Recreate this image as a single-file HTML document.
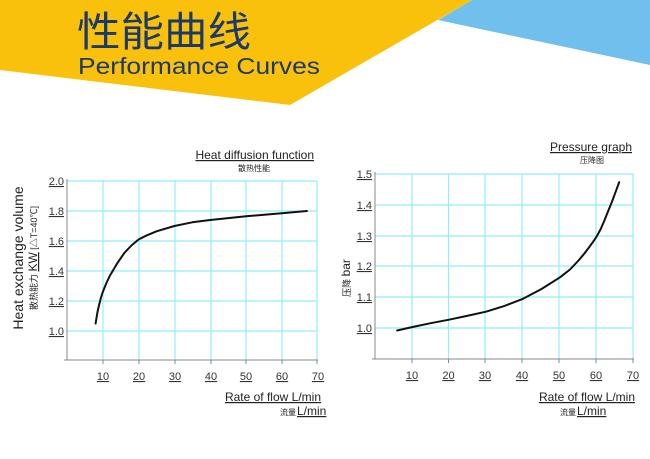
<!DOCTYPE html>
<html><head><meta charset="utf-8"><style>
html,body{margin:0;padding:0;background:#fff;}
svg{display:block;}
text{font-family:"Liberation Sans","Noto Sans CJK SC",sans-serif;}
</style></head><body>
<svg width="650" height="459" viewBox="0 0 650 459" xmlns="http://www.w3.org/2000/svg">
<polygon points="438,20 472,0 650,0 650,65" fill="#70bfec"/>
<polygon points="0,0 472,0 290,105 0,70" fill="#f9c10c"/>
<text x="77" y="46" font-size="41" fill="#1b3a6b" font-family="'Noto Sans CJK SC',sans-serif" textLength="174" lengthAdjust="spacingAndGlyphs">性能曲线</text>
<text x="78" y="74" font-size="23" fill="#1b3a6b" textLength="242" lengthAdjust="spacingAndGlyphs">Performance Curves</text>

<!-- Left chart -->
<g stroke="#8ff0f8" stroke-width="1.2">
<line x1="67" y1="181" x2="317" y2="181"/><line x1="67" y1="211" x2="317" y2="211"/>
<line x1="67" y1="241" x2="317" y2="241"/><line x1="67" y1="271" x2="317" y2="271"/>
<line x1="67" y1="301" x2="317" y2="301"/><line x1="67" y1="331" x2="317" y2="331"/>
<line x1="103" y1="181" x2="103" y2="360"/><line x1="139" y1="181" x2="139" y2="360"/>
<line x1="175" y1="181" x2="175" y2="360"/><line x1="211" y1="181" x2="211" y2="360"/>
<line x1="246" y1="181" x2="246" y2="360"/><line x1="282" y1="181" x2="282" y2="360"/>
<line x1="317" y1="181" x2="317" y2="360"/>
</g>
<g stroke="#888" stroke-width="1">
<line x1="67" y1="179" x2="67" y2="360"/><line x1="64" y1="360" x2="318" y2="360"/>
<line x1="103" y1="360" x2="103" y2="364"/><line x1="139" y1="360" x2="139" y2="364"/><line x1="175" y1="360" x2="175" y2="364"/><line x1="211" y1="360" x2="211" y2="364"/><line x1="246" y1="360" x2="246" y2="364"/><line x1="282" y1="360" x2="282" y2="364"/><line x1="317" y1="360" x2="317" y2="364"/>
</g>
<g font-size="11" fill="#333" text-anchor="end" text-decoration="underline">
<text x="64" y="185">2.0</text><text x="64" y="215">1.8</text><text x="64" y="245">1.6</text>
<text x="64" y="275">1.4</text><text x="64" y="305">1.2</text><text x="64" y="335">1.0</text>
</g>
<g font-size="11" fill="#333" text-anchor="middle" text-decoration="underline">
<text x="103" y="380">10</text><text x="139" y="380">20</text><text x="175" y="380">30</text><text x="211" y="380">40</text><text x="246" y="380">50</text><text x="282" y="380">60</text><text x="318" y="380">70</text>
</g>
<polyline points="95.6,323.5 97.3,313 99.2,304.5 101,297.5 102.8,292 106.4,283 110,275.5 117.1,263.5 124.3,253 131.4,245.5 138.6,239.5 145.8,235.8 156.5,231.3 174.4,226 192.3,222.3 210.2,220 246,216.3 281.8,213.3 306.9,211" fill="none" stroke="#111" stroke-width="2" stroke-linejoin="round" stroke-linecap="round"/>
<text x="314" y="159" font-size="12" fill="#222" text-anchor="end" text-decoration="underline">Heat diffusion function</text>
<text x="270" y="171" font-size="8" fill="#222" text-anchor="end">散热性能</text>
<text x="321" y="401" font-size="12" fill="#222" text-anchor="end" text-decoration="underline">Rate of flow L/min</text>
<text x="296" y="415" font-size="8" fill="#222" text-anchor="end">流量</text>
<text x="297" y="415" font-size="12" fill="#222" text-decoration="underline">L/min</text>
<text transform="translate(23,258) rotate(-90)" font-size="14" fill="#222" text-anchor="middle">Heat exchange volume</text>
<text transform="translate(37,258) rotate(-90)" font-size="9" fill="#222" text-anchor="middle">散热能力 <tspan font-size="12" text-decoration="underline">KW</tspan> [△T=40℃]</text>

<!-- Right chart -->
<g stroke="#8ff0f8" stroke-width="1.2">
<line x1="375" y1="174" x2="633" y2="174"/><line x1="375" y1="205" x2="633" y2="205"/>
<line x1="375" y1="236" x2="633" y2="236"/><line x1="375" y1="266" x2="633" y2="266"/>
<line x1="375" y1="297" x2="633" y2="297"/><line x1="375" y1="328" x2="633" y2="328"/>
<line x1="412" y1="174" x2="412" y2="359"/><line x1="448.5" y1="174" x2="448.5" y2="359"/>
<line x1="485" y1="174" x2="485" y2="359"/><line x1="522" y1="174" x2="522" y2="359"/>
<line x1="559" y1="174" x2="559" y2="359"/><line x1="596" y1="174" x2="596" y2="359"/>
<line x1="633" y1="174" x2="633" y2="359"/>
</g>
<g stroke="#888" stroke-width="1">
<line x1="375" y1="172" x2="375" y2="359"/><line x1="372" y1="359" x2="634" y2="359"/>
<line x1="412" y1="359" x2="412" y2="363"/><line x1="448.5" y1="359" x2="448.5" y2="363"/><line x1="485" y1="359" x2="485" y2="363"/><line x1="522" y1="359" x2="522" y2="363"/><line x1="559" y1="359" x2="559" y2="363"/><line x1="596" y1="359" x2="596" y2="363"/><line x1="633" y1="359" x2="633" y2="363"/>
</g>
<g font-size="11" fill="#333" text-anchor="end" text-decoration="underline">
<text x="372" y="178">1.5</text><text x="372" y="209">1.4</text><text x="372" y="240">1.3</text>
<text x="372" y="270">1.2</text><text x="372" y="301">1.1</text><text x="372" y="332">1.0</text>
</g>
<g font-size="11" fill="#333" text-anchor="middle" text-decoration="underline">
<text x="412" y="379">10</text><text x="448.5" y="379">20</text><text x="485" y="379">30</text><text x="522" y="379">40</text><text x="559" y="379">50</text><text x="596" y="379">60</text><text x="633" y="379">70</text>
</g>
<polyline points="397.2,330.5 412,327.1 430,323.3 449,319.7 467,315.9 486,311.7 504.5,305.9 523,298.8 541.5,289 560,277.3 570,269.5 578.5,260.5 584,254 589.6,246.6 594,240.5 597,235.9 600.5,229.5 604.4,220.5 608,211.5 611.8,202.1 615.5,192.2 619.2,182.2" fill="none" stroke="#111" stroke-width="2" stroke-linejoin="round" stroke-linecap="round"/>
<text x="632" y="151" font-size="12" fill="#222" text-anchor="end" text-decoration="underline">Pressure graph</text>
<text x="604" y="163" font-size="8" fill="#222" text-anchor="end">压降图</text>
<text x="635" y="401" font-size="12" fill="#222" text-anchor="end" text-decoration="underline">Rate of flow L/min</text>
<text x="576" y="415" font-size="8" fill="#222" text-anchor="end">流量</text>
<text x="577" y="415" font-size="12" fill="#222" text-decoration="underline">L/min</text>
<text transform="translate(350,278) rotate(-90)" font-size="9" fill="#222" text-anchor="middle">压降 <tspan font-size="12">bar</tspan></text>
</svg>
</body></html>
